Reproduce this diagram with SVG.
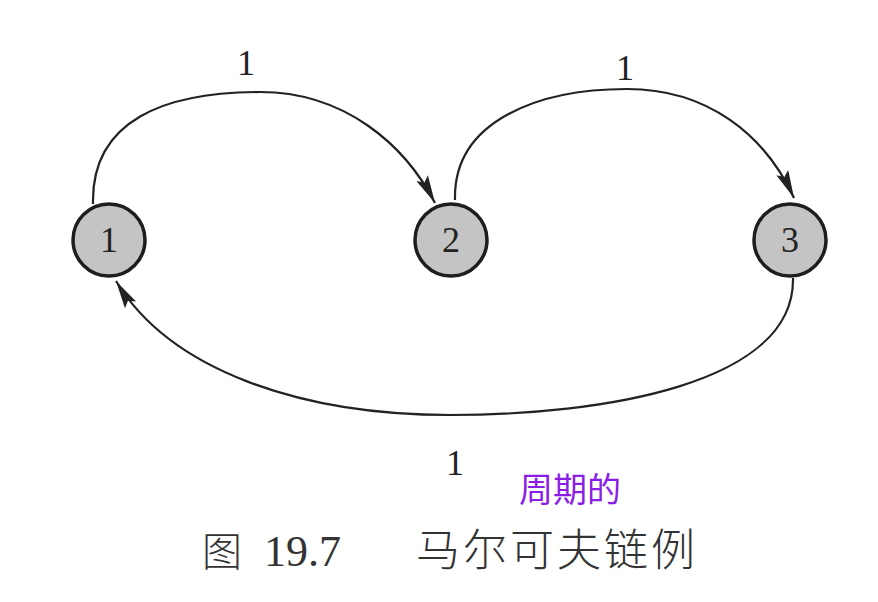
<svg xmlns="http://www.w3.org/2000/svg" width="878" height="602" viewBox="0 0 878 602">
<style>
.node circle{fill:#c4c4c4;stroke:#1e1e1e;stroke-width:3.5}
.node text{font-family:"Liberation Serif",serif;font-size:36px;fill:#222;text-anchor:middle}
.edge{fill:none;stroke:#222;stroke-width:2.2}
.lbl{font-family:"Liberation Serif",serif;font-size:36px;fill:#222;text-anchor:middle}
.cap{fill:#333}
</style>
<defs>
<marker id="arr" markerUnits="userSpaceOnUse" markerWidth="30" markerHeight="14" refX="28" refY="6.5" orient="auto">
<path d="M0,0 L28,6.5 L0,13 L5,6.5 z" fill="#222"/>
</marker>
</defs>
<rect width="878" height="602" fill="#fff"/>
<g id="connectors">
<path class="edge" d="M93,204 C91,120 165,92 260,92 C345,92 405,145 435,203" marker-end="url(#arr)"/>
<path class="edge" d="M455,200 C453,120 540,89 627,89 C708,89 765,135 794,198" marker-end="url(#arr)"/>
<path class="edge" d="M793,278 C795,385 600,415 450,415 C300,415 170,370 116,281" marker-end="url(#arr)"/>
<text class="lbl" x="246" y="75">1</text>
<text class="lbl" x="625" y="80">1</text>
<text class="lbl" x="455" y="475">1</text>
</g>
<g id="n1" class="node"><circle cx="109" cy="240" r="36"/><text x="109" y="252">1</text></g>
<g id="n2" class="node"><circle cx="451" cy="240" r="36"/><text x="451" y="252">2</text></g>
<g id="n3" class="node"><circle cx="790" cy="240" r="36"/><text x="790" y="252">3</text></g>
<text x="570" y="502" font-family="'Noto Sans CJK SC',sans-serif" font-size="34" fill="#8a1ee6" text-anchor="middle">周期的</text>
<text class="cap" x="202" y="566" font-family="'Noto Sans CJK SC',sans-serif" font-size="40" font-weight="300">图</text>
<text class="cap" x="264" y="566" font-family="'Liberation Serif',serif" font-size="44">19.7</text>
<text class="cap" x="416" y="566" font-family="'Noto Sans CJK SC',sans-serif" font-size="44" letter-spacing="3" font-weight="300">马尔可夫链例</text>
</svg>
